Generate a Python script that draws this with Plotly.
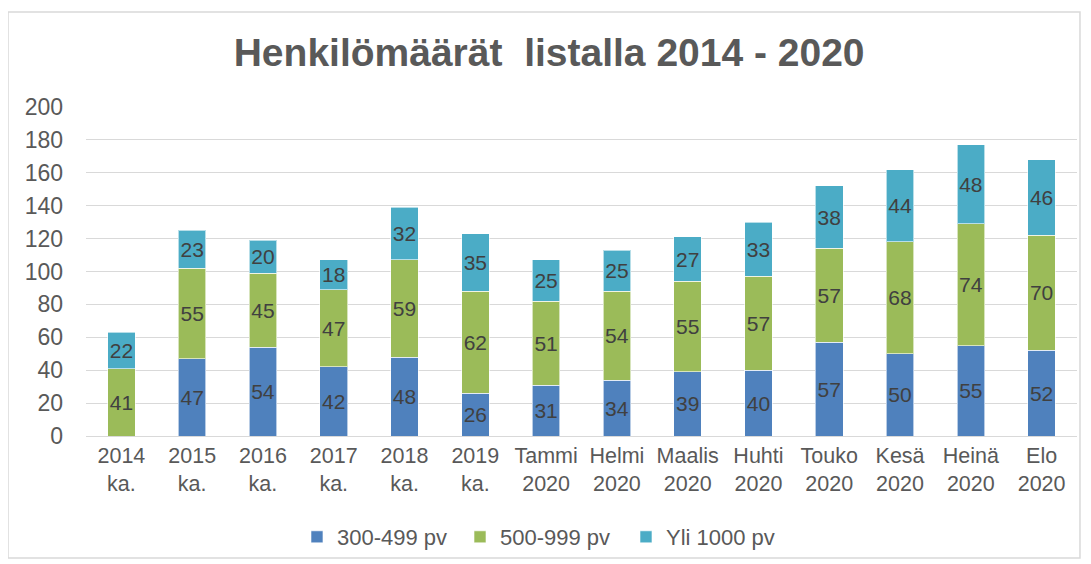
import plotly.graph_objects as go

categories = ["2014<br>ka.", "2015<br>ka.", "2016<br>ka.", "2017<br>ka.", "2018<br>ka.", "2019<br>ka.",
              "Tammi<br>2020", "Helmi<br>2020", "Maalis<br>2020", "Huhti<br>2020", "Touko<br>2020",
              "Kesä<br>2020", "Heinä<br>2020", "Elo<br>2020"]
s300 = [None, 47, 54, 42, 48, 26, 31, 34, 39, 40, 57, 50, 55, 52]
s500 = [41, 55, 45, 47, 59, 62, 51, 54, 55, 57, 57, 68, 74, 70]
s1000 = [22, 23, 20, 18, 32, 35, 25, 25, 27, 33, 38, 44, 48, 46]

series = [("300-499 pv", s300, "#4F81BD"), ("500-999 pv", s500, "#9BBB59"), ("Yli 1000 pv", s1000, "#4BACC6")]
legend_ids = ["legend", "legend2", "legend3"]
legend_x = [0.2129, 0.3774, 0.5449]

FONT = "Liberation Sans, Arial"
fig = go.Figure()
for (name, vals, col), lid in zip(series, legend_ids):
    fig.add_trace(go.Bar(
        x=categories, y=vals, name=name, legend=lid,
        marker=dict(color=col, line=dict(color="rgba(255,255,255,0.6)", width=1)),
        text=[("" if v is None else str(v)) for v in vals],
        textposition="inside", insidetextanchor="middle",
        textfont=dict(color="#404040", size=21, family=FONT),
        constraintext="none", textangle=0,
    ))

legend_common = dict(orientation="h", xanchor="left", y=-0.307, yanchor="middle",
                     font=dict(size=22, color="#595959", family=FONT), itemwidth=30,
                     bgcolor="rgba(0,0,0,0)")
fig.update_layout(
    barmode="stack", bargap=0.61,
    width=1091, height=564,
    margin=dict(l=78, r=22, t=99, b=136, autoexpand=False),
    paper_bgcolor="white", plot_bgcolor="white",
    font=dict(family=FONT, color="#595959", size=21),
    title=dict(text="<b>Henkilömäärät  listalla 2014 - 2020</b>", x=0.496, xanchor="center",
               y=0.922, yref="container", yanchor="middle",
               font=dict(size=39, color="#595959", family=FONT)),
    legend=dict(x=legend_x[0], **legend_common),
    legend2=dict(x=legend_x[1], **legend_common),
    legend3=dict(x=legend_x[2], **legend_common),
    showlegend=True,
)
fig.update_yaxes(range=[0, 200], dtick=20, showgrid=True, gridcolor="#d9d9d9", gridwidth=1,
                 zeroline=True, zerolinecolor="#d9d9d9", zerolinewidth=1, automargin=False,
                 tickfont=dict(size=23, color="#595959"), ticks="", ticklabelstandoff=22)
fig.update_xaxes(showline=True, linecolor="#d9d9d9", linewidth=1, ticks="", automargin=False,
                 tickfont=dict(size=21.5, color="#595959"))
fig.add_shape(type="rect", xref="paper", yref="paper", x0=-0.0787, x1=1.003, y0=-0.371, y1=1.289,
              line=dict(color="#d9d9d9", width=1.5), fillcolor="rgba(0,0,0,0)", layer="below")

fig.write_html("out.html")
